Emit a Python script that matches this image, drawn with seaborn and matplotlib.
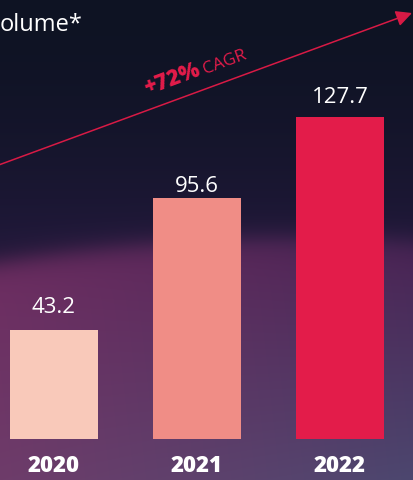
import numpy as np
import pandas as pd
import matplotlib
matplotlib.use("Agg")
import matplotlib.pyplot as plt
import seaborn as sns
from matplotlib.colors import to_rgb

# data
years = ["2020", "2021", "2022"]
volumes = [43.2, 95.6, 127.7]
bar_colors = ["#f9c9ba", "#f08d86", "#e31c4a"]
label_gaps = [12, 4.5, 10]  # points between bar top and value label baseline
title_text = "olume*"
cagr_big = "+72%"
cagr_small = "CAGR"

sns.set_theme(style="white")
plt.rcParams["font.family"] = ["Open Sans", "DejaVu Sans"]

W, H = 413, 480
fig = plt.figure(figsize=(W / 100, H / 100), dpi=100)

# background gradient
bg = fig.add_axes([0, 0, 1, 1], zorder=0)
yy, xx = np.mgrid[0:H, 0:W].astype(float)
fx = xx / W

def mix(a, b, t):
    a = np.asarray(to_rgb(a)) if isinstance(a, str) else a
    b = np.asarray(to_rgb(b)) if isinstance(b, str) else b
    return a + (b - a) * t[..., None]

top = mix("#0e1323", "#1f1838", np.clip(yy / 235, 0, 1) ** 1.6)
mid = mix("#6c2c60", "#4a2656", fx)
low = mix("#6e3c6a", "#4c476f", fx)
lower = mix(mid, low, np.clip((yy - 260) / 220, 0, 1))
y_arc = 238 + 0.00026 * (xx - 300) ** 2
t = 1 / (1 + np.exp(-(yy - y_arc) / 7))
img = top * (1 - t[..., None]) + lower * t[..., None]
bg.imshow(np.clip(img, 0, 1), extent=[0, W, H, 0], aspect="auto", interpolation="bilinear")
bg.set_xlim(0, W)
bg.set_ylim(H, 0)
bg.axis("off")

# CAGR arrow and label
red = "#d81a45"
bg.annotate("", xy=(412, 13), xytext=(-4, 166),
            arrowprops=dict(arrowstyle="-|>", color=red, lw=1.1, mutation_scale=24,
                            shrinkA=0, shrinkB=0))
ang = 20.3
bg.text(147, 95, cagr_big, color="#e31c4a", fontsize=15.5, fontweight="heavy",
        rotation=ang, rotation_mode="anchor", ha="left", va="baseline")
bg.text(205, 74, cagr_small, color="#e31c4a", fontsize=12.5,
        rotation=ang, rotation_mode="anchor", ha="left", va="baseline")

fig.text(0, 1 - 25 / H, title_text, color="white", fontsize=17, fontweight="medium",
         ha="left", va="center")

# bars
ax = fig.add_axes([0, 41 / H, 1, 439 / H], zorder=1)
ax.patch.set_alpha(0)
df = pd.DataFrame({"year": years, "volume": volumes})
sns.barplot(data=df, x="year", y="volume", hue="year", palette=bar_colors,
            width=88 / 143, legend=False, ax=ax, saturation=1, linewidth=0)
ax.set_xlim(-54 / 143, (W - 54) / 143)
ax.set_ylim(0, 439 / 2.52)
for i, (v, g) in enumerate(zip(volumes, label_gaps)):
    ax.annotate(f"{v:.1f}", (i, v), xytext=(0, g), textcoords="offset points",
                ha="center", va="baseline", color="white", fontsize=16, fontweight="normal")
ax.set_xlabel("")
ax.set_ylabel("")
ax.set_yticks([])
ax.tick_params(axis="x", length=0, pad=11, labelsize=16, labelcolor="white")
for lbl in ax.get_xticklabels():
    lbl.set_fontweight("heavy")
for s in ax.spines.values():
    s.set_visible(False)

fig.savefig("out.png", dpi=100)
